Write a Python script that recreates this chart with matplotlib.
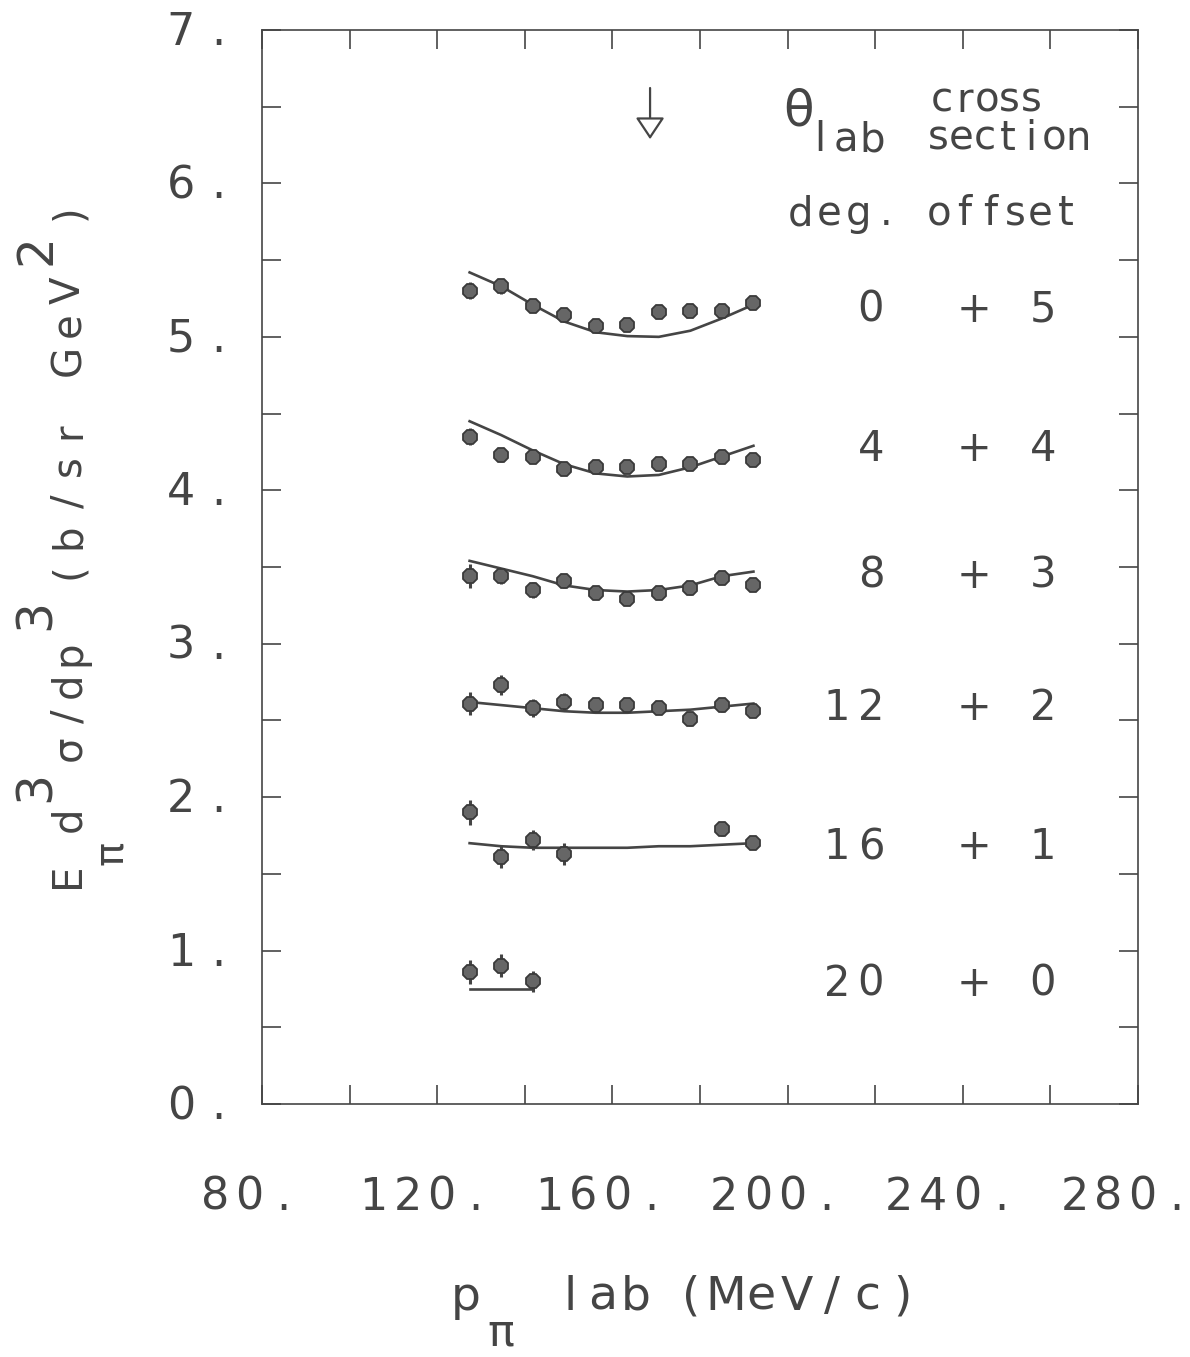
import matplotlib
matplotlib.use('Agg')
import matplotlib.pyplot as plt
import matplotlib.transforms as mtransforms
from matplotlib.ticker import MultipleLocator

W, H = 1190, 1357
ink = '#454545'

# pion momentum bins (MeV/c)
p_lab = [127.4, 134.6, 141.8, 149.0, 156.2, 163.4, 170.6, 177.8, 185.0, 192.2]
p_16 = [127.4, 134.6, 141.8, 149.0, 185.0, 192.2]
p_20 = [127.4, 134.6, 141.8]
p_arrow = 168.6

angles = [0, 4, 8, 12, 16, 20]
offsets = [5, 4, 3, 2, 1, 0]

# measured E d3sigma/dp3 (b/sr GeV^2), without the offset
xs_0 = [0.30, 0.33, 0.20, 0.14, 0.07, 0.08, 0.16, 0.17, 0.17, 0.22]
xs_4 = [0.35, 0.23, 0.22, 0.14, 0.15, 0.15, 0.17, 0.17, 0.22, 0.20]
xs_8 = [0.44, 0.44, 0.35, 0.41, 0.33, 0.29, 0.33, 0.36, 0.43, 0.38]
xs_12 = [0.61, 0.73, 0.58, 0.62, 0.60, 0.60, 0.58, 0.51, 0.60, 0.56]
xs_16 = [0.90, 0.61, 0.72, 0.63, 0.79, 0.70]
xs_20 = [0.86, 0.90, 0.80]

err_0 = [0.055, 0.05, 0.04, 0.04, 0.035, 0.035, 0.035, 0.04, 0.035, 0.035]
err_4 = [0.055, 0.045, 0.04, 0.04, 0.035, 0.035, 0.035, 0.035, 0.035, 0.035]
err_8 = [0.08, 0.05, 0.05, 0.045, 0.04, 0.04, 0.04, 0.04, 0.04, 0.035]
err_12 = [0.075, 0.065, 0.06, 0.06, 0.04, 0.045, 0.04, 0.045, 0.045, 0.035]
err_16 = [0.08, 0.07, 0.065, 0.07, 0.04, 0.04]
err_20 = [0.08, 0.075, 0.07]

# model curves, without the offset
fit_0 = [0.42, 0.33, 0.21, 0.10, 0.03, 0.005, 0.00, 0.04, 0.12, 0.21]
fit_4 = [0.45, 0.36, 0.26, 0.17, 0.11, 0.09, 0.10, 0.15, 0.22, 0.29]
fit_8 = [0.54, 0.49, 0.44, 0.38, 0.35, 0.34, 0.35, 0.38, 0.44, 0.47]
fit_12 = [0.62, 0.60, 0.58, 0.56, 0.55, 0.55, 0.56, 0.57, 0.59, 0.61]
fit_16 = [0.70, 0.68, 0.67, 0.67, 0.67, 0.67, 0.68, 0.68, 0.69, 0.70]
fit_20 = [0.75, 0.75, 0.75]

data_p = [p_lab, p_lab, p_lab, p_lab, p_16, p_20]
data_xs = [xs_0, xs_4, xs_8, xs_12, xs_16, xs_20]
data_err = [err_0, err_4, err_8, err_12, err_16, err_20]
fit_p = [p_lab, p_lab, p_lab, p_lab, p_lab, p_20]
fits = [fit_0, fit_4, fit_8, fit_12, fit_16, fit_20]

x_ticklabels = [80, 120, 160, 200, 240, 280]
y_ticklabels = [0, 1, 2, 3, 4, 5, 6, 7]

plt.rcParams['font.family'] = 'DejaVu Sans'

fig = plt.figure(figsize=(W / 100, H / 100), dpi=100)
ax = fig.add_axes([262 / W, 1 - 1104 / H, 876 / W, 1074 / H])

for p, v, e, off in zip(data_p, data_xs, data_err, offsets):
    ax.errorbar(p, [a + off for a in v], yerr=e, fmt='8', ms=10.5,
                mfc='#666666', mec='#3a3a3a', mew=1.3,
                ecolor='#444444', elinewidth=2.2, capsize=0, zorder=3)
for p, f, off in zip(fit_p, fits, offsets):
    ax.plot(p, [a + off for a in f], color='#454545', lw=1.9, zorder=2,
            solid_joinstyle='round')

ax.annotate('', xy=(p_arrow, 6.27), xytext=(p_arrow, 6.64),
            arrowprops=dict(arrowstyle='-|>,head_width=0.3,head_length=0.45',
                            mutation_scale=30, color='#454545', fc='white', lw=1.6))

ax.set_xlim(80, 280)
ax.set_ylim(0, 7)
ax.xaxis.set_major_locator(MultipleLocator(40))
ax.xaxis.set_minor_locator(MultipleLocator(20))
ax.yaxis.set_major_locator(MultipleLocator(1))
ax.yaxis.set_minor_locator(MultipleLocator(0.5))
ax.tick_params(which='both', direction='in', length=14, width=1.2, color=ink,
               top=True, right=True, labelbottom=False, labelleft=False)
for s in ax.spines.values():
    s.set_color(ink)
    s.set_linewidth(1.2)


def spaced(text, trans, x, y, pitch, size, rot=0, anchor='left', off=(0, 0)):
    # plotter-style lettering: every character on a fixed pitch (pixels)
    n = len(text)
    start = {'left': 0, 'center': -(n - 1) / 2 * pitch, 'right': -(n - 1) * pitch}[anchor]
    for i, ch in enumerate(text):
        if ch == ' ':
            continue
        d = start + i * pitch
        dx, dy = (d, 0) if rot == 0 else (0, d)
        tr = mtransforms.offset_copy(trans, fig=fig, x=dx + off[0], y=dy + off[1], units='dots')
        fig.text(x, y, ch, transform=tr, rotation=rot, rotation_mode='anchor',
                 ha='center', va='baseline', fontsize=size, color=ink)


# pixel coordinates measured from the top-left corner
pix = mtransforms.Affine2D().scale(1, -1).translate(0, H)
xtrans = mtransforms.blended_transform_factory(ax.transData, ax.transAxes)
ytrans = mtransforms.blended_transform_factory(ax.transAxes, ax.transData)

for v in x_ticklabels:
    spaced(f'{v}.', xtrans, v, 0, 34, 32, anchor='center', off=(-12.5, -106))
for v in y_ticklabels:
    spaced(f'{v}.', ytrans, 0, v, 37, 32, off=(-81, -15))

# x axis title
spaced('p', pix, 466, 1310, 0, 34)
spaced('π', pix, 501, 1345, 0, 32)
spaced('lab', pix, 570, 1310, 33, 34)
spaced('(MeV/c)', pix, 691, 1310, 35.2, 34)

# y axis title (reads bottom to top)
spaced('E', pix, 79, 875, 0, 29, rot=90)
spaced('π', pix, 122, 853, 0, 29, rot=90)
spaced('d', pix, 80, 819, 0, 29, rot=90)
spaced('3', pix, 50, 786, 0, 35, rot=90)
spaced('σ/dp', pix, 80, 748, 31.5, 29, rot=90)
spaced('3', pix, 50, 615, 0, 35, rot=90)
spaced('(b/sr', pix, 80, 571, 35, 29, rot=90)
spaced('GeV', pix, 80, 360, 35, 29, rot=90)
spaced('2', pix, 50, 250, 0, 35, rot=90)
spaced(')', pix, 80, 212, 0, 29, rot=90)

# column headings
spaced('θ', pix, 799, 126, 0, 36)
spaced('lab', pix, 820, 151, 26, 29)
spaced('deg.', pix, 801, 225, 28.5, 29)
spaced('cross', pix, 942, 112, 22.3, 29)
spaced('section', pix, 938, 150, 23.3, 29)
spaced('offset', pix, 939, 225, 25.4, 29)

# angle / offset columns
row_baselines = [322, 461, 588, 720, 859, 996]
for a, off, yb in zip(angles, offsets, row_baselines):
    spaced(str(a), pix, 871, yb, 34, 30, anchor='right')
    spaced('+', pix, 974, yb, 0, 30)
    spaced(str(off), pix, 1043, yb, 0, 30)

fig.savefig('out.png', dpi=100)
